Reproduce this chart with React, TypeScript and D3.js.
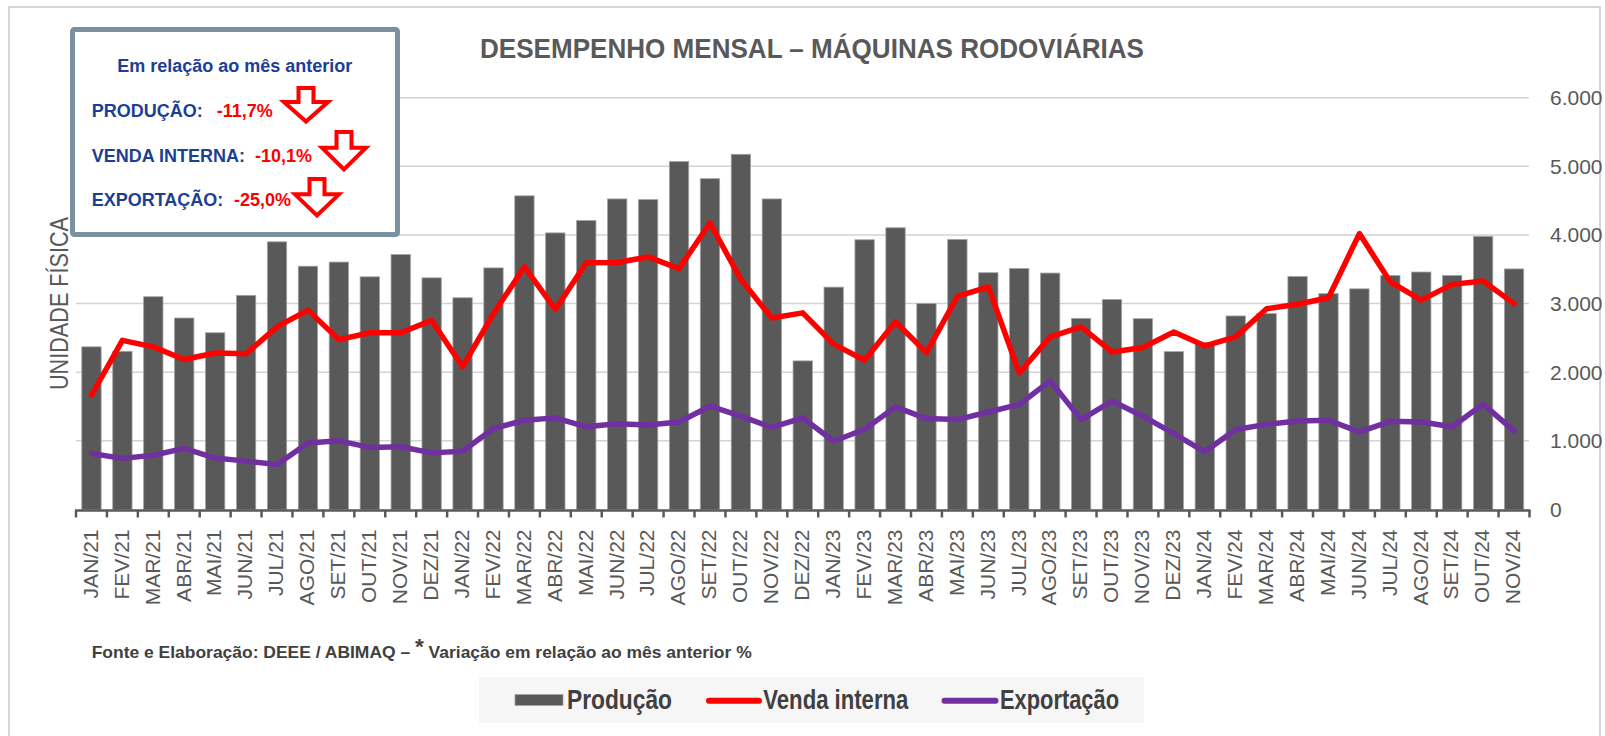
import React, { useEffect, useRef } from 'react';
import * as d3 from 'd3';

// monthly data
const months = [
    'JAN/21', 'FEV/21', 'MAR/21', 'ABR/21', 'MAI/21', 'JUN/21', 'JUL/21', 'AGO/21', 'SET/21', 'OUT/21', 'NOV/21', 'DEZ/21',
    'JAN/22', 'FEV/22', 'MAR/22', 'ABR/22', 'MAI/22', 'JUN/22', 'JUL/22', 'AGO/22', 'SET/22', 'OUT/22', 'NOV/22', 'DEZ/22',
    'JAN/23', 'FEV/23', 'MAR/23', 'ABR/23', 'MAI/23', 'JUN/23', 'JUL/23', 'AGO/23', 'SET/23', 'OUT/23', 'NOV/23', 'DEZ/23',
    'JAN/24', 'FEV/24', 'MAR/24', 'ABR/24', 'MAI/24', 'JUN/24', 'JUL/24', 'AGO/24', 'SET/24', 'OUT/24', 'NOV/24',
];

const producao = [
    2370, 2305, 3100, 2790, 2575, 3120, 3900, 3545, 3605, 3390, 3715, 3375,
    3085, 3520, 4570, 4030, 4210, 4525, 4515, 5070, 4820, 5175, 4525, 2165,
    3240, 3930, 4105, 3000, 3935, 3450, 3510, 3445, 2785, 3060, 2780, 2300,
    2435, 2820, 2855, 3395, 3145, 3215, 3410, 3460, 3410, 3980, 3505,
];

const vendaInterna = [
    1665, 2465, 2370, 2185, 2280, 2270, 2660, 2905, 2475, 2575, 2575, 2755,
    2080, 2855, 3535, 2915, 3595, 3600, 3680, 3510, 4175, 3350, 2790, 2865,
    2410, 2175, 2735, 2285, 3105, 3245, 1990, 2515, 2660, 2295, 2360, 2585,
    2385, 2515, 2925, 2990, 3085, 4020, 3315, 3050, 3280, 3330, 3000,
];

const exportacao = [
    815, 745, 790, 890, 750, 705, 655, 970, 1000, 905, 915, 825,
    850, 1180, 1300, 1335, 1205, 1250, 1230, 1275, 1505, 1360, 1195, 1335,
    995, 1170, 1495, 1325, 1310, 1420, 1530, 1875, 1310, 1580, 1360, 1105,
    840, 1165, 1240, 1290, 1300, 1130, 1285, 1275, 1205, 1535, 1145,
];

const yTicks = [0, 1000, 2000, 3000, 4000, 5000, 6000];

const infoLabels = ['PRODUÇÃO:', 'VENDA INTERNA:', 'EXPORTAÇÃO:'];
const infoValues = ['-11,7%', '-10,1%', '-25,0%'];

const legendLabels = ['Produção', 'Venda interna', 'Exportação'];

const GRAY = '#595959';
const RED = '#ff0000';
const PURPLE = '#7030a0';
const BLUE = '#1c3f94';
const SANS = "'Liberation Sans', Arial, sans-serif";
const NARROW = "'Liberation Sans Narrow', 'Liberation Sans', Arial, sans-serif";

const App = () => {
    const svgRef = useRef<SVGSVGElement>(null);

    useEffect(() => {
        if (!svgRef.current) return;
        const width = 1605;
        const height = 736;

        const svg = d3.select(svgRef.current);
        svg.selectAll('*').remove();
        svg.attr('width', width).attr('height', height).attr('viewBox', [0, 0, width, height]);

        svg.append('rect').attr('width', width).attr('height', height).attr('fill', '#fff');

        // outer frame
        svg.append('rect')
            .attr('x', 9).attr('y', 7)
            .attr('width', 1591).attr('height', 740)
            .attr('fill', 'none')
            .attr('stroke', '#c8c8c8')
            .attr('stroke-width', 1.5);

        const xScale = d3.scaleBand<string>()
            .domain(months)
            .range([76, 1529.5])
            .paddingInner(0.375)
            .paddingOuter(0.1875);

        const yScale = d3.scaleLinear()
            .domain([0, 6000])
            .range([509.5, 97.7]);

        const cx = (m: string) => (xScale(m) || 0) + xScale.bandwidth() / 2;

        // gridlines
        svg.append('g')
            .selectAll('line')
            .data(yTicks.filter(t => t > 0))
            .join('line')
            .attr('x1', 76)
            .attr('x2', 1529)
            .attr('y1', d => yScale(d))
            .attr('y2', d => yScale(d))
            .attr('stroke', '#d3d3d3')
            .attr('stroke-width', 1.5);

        // y tick labels (right side)
        svg.append('g')
            .selectAll('text')
            .data(yTicks)
            .join('text')
            .attr('x', 1550)
            .attr('y', d => yScale(d))
            .attr('dy', '0.35em')
            .attr('font-family', SANS)
            .attr('font-size', 21)
            .attr('fill', GRAY)
            .text(d => d3.format(',')(d).replace(/,/g, '.'));

        // bars
        svg.append('g')
            .selectAll('rect')
            .data(months)
            .join('rect')
            .attr('x', d => xScale(d) || 0)
            .attr('width', xScale.bandwidth())
            .attr('y', (d, i) => yScale(producao[i]))
            .attr('height', (d, i) => yScale(0) - yScale(producao[i]))
            .attr('fill', GRAY)
            .attr('stroke', '#a3a3a3')
            .attr('stroke-width', 0.8);

        // x axis
        const axisY = 510.5;
        svg.append('line')
            .attr('x1', 75).attr('x2', 1530.5)
            .attr('y1', axisY).attr('y2', axisY)
            .attr('stroke', GRAY)
            .attr('stroke-width', 2.5);

        const tickXs = months.map(m => (xScale(m) || 0) - xScale.step() * 0.1875).concat([1529.5]);
        svg.append('g')
            .selectAll('line')
            .data(tickXs)
            .join('line')
            .attr('x1', d => d).attr('x2', d => d)
            .attr('y1', axisY).attr('y2', 517.5)
            .attr('stroke', GRAY)
            .attr('stroke-width', 2.5);

        svg.append('g')
            .selectAll('text')
            .data(months)
            .join('text')
            .attr('transform', d => `translate(${cx(d)},529.5) rotate(-90)`)
            .attr('dy', '0.3em')
            .attr('text-anchor', 'end')
            .attr('font-family', SANS)
            .attr('font-size', 21)
            .attr('fill', GRAY)
            .text(d => d);

        // lines
        const line = d3.line<number>()
            .x((d, i) => cx(months[i]))
            .y(d => yScale(d));

        svg.append('path')
            .attr('d', line(vendaInterna))
            .attr('fill', 'none')
            .attr('stroke', RED)
            .attr('stroke-width', 5.5)
            .attr('stroke-linejoin', 'round')
            .attr('stroke-linecap', 'round');

        svg.append('path')
            .attr('d', line(exportacao))
            .attr('fill', 'none')
            .attr('stroke', PURPLE)
            .attr('stroke-width', 5.5)
            .attr('stroke-linejoin', 'round')
            .attr('stroke-linecap', 'round');

        // title
        svg.append('text')
            .attr('x', 480).attr('y', 58)
            .attr('textLength', 664)
            .attr('lengthAdjust', 'spacingAndGlyphs')
            .attr('font-family', NARROW)
            .attr('font-weight', 'bold')
            .attr('font-size', 28)
            .attr('fill', GRAY)
            .text('DESEMPENHO MENSAL – MÁQUINAS RODOVIÁRIAS');

        // y axis title
        svg.append('text')
            .attr('transform', 'translate(68,303.5) rotate(-90)')
            .attr('text-anchor', 'middle')
            .attr('textLength', 173)
            .attr('lengthAdjust', 'spacingAndGlyphs')
            .attr('font-family', NARROW)
            .attr('font-size', 25)
            .attr('fill', GRAY)
            .text('UNIDADE FÍSICA');

        // info box
        svg.append('rect')
            .attr('x', 72.5).attr('y', 29.5)
            .attr('width', 325).attr('height', 205)
            .attr('rx', 2)
            .attr('fill', '#fff')
            .attr('stroke', '#7b929e')
            .attr('stroke-width', 5);

        svg.append('text')
            .attr('x', 234.7).attr('y', 71.7)
            .attr('text-anchor', 'middle')
            .attr('font-family', SANS)
            .attr('font-weight', 'bold')
            .attr('font-size', 18)
            .attr('fill', BLUE)
            .text('Em relação ao mês anterior');

        const rowY = [117, 162.3, 205.7];
        const valueX = [216.7, 255, 234];
        const arrows = [[306, 88, 121.5], [344, 132, 169.5], [317, 179, 215.5]];

        const arrowPath = (x: number, top: number, bottom: number) => {
            const hw = 22;
            const sw = 7.5;
            const hy = top + (bottom - top) * 0.42;
            return `M${x - sw},${top}H${x + sw}V${hy}H${x + hw}L${x},${bottom}L${x - hw},${hy}H${x - sw}Z`;
        };

        infoLabels.forEach((label, i) => {
            svg.append('text')
                .attr('x', 91.7).attr('y', rowY[i])
                .attr('font-family', SANS)
                .attr('font-weight', 'bold')
                .attr('font-size', 18)
                .attr('fill', BLUE)
                .text(label);

            svg.append('path')
                .attr('d', arrowPath(arrows[i][0], arrows[i][1], arrows[i][2]))
                .attr('fill', '#fff')
                .attr('stroke', RED)
                .attr('stroke-width', 4);

            svg.append('text')
                .attr('x', valueX[i]).attr('y', rowY[i])
                .attr('font-family', SANS)
                .attr('font-weight', 'bold')
                .attr('font-size', 18)
                .attr('fill', RED)
                .text(infoValues[i]);
        });

        // footer
        const footer = svg.append('text')
            .attr('x', 91.7).attr('y', 658.3)
            .attr('textLength', 660)
            .attr('lengthAdjust', 'spacingAndGlyphs')
            .attr('font-family', NARROW)
            .attr('font-weight', 'bold')
            .attr('font-size', 17)
            .attr('fill', '#404040');
        footer.append('tspan').text('Fonte e Elaboração: DEEE / ABIMAQ – ');
        footer.append('tspan').attr('font-size', 22).attr('dy', -4).text('*');
        footer.append('tspan').attr('dy', 4).text(' Variação em relação ao mês anterior %');

        // legend
        svg.append('rect')
            .attr('x', 479).attr('y', 677)
            .attr('width', 665).attr('height', 46)
            .attr('fill', '#f6f6f6');

        svg.append('rect')
            .attr('x', 515).attr('y', 694.5)
            .attr('width', 48).attr('height', 11)
            .attr('fill', GRAY)
            .attr('stroke', '#a3a3a3')
            .attr('stroke-width', 0.8);

        const legendLines = [[709, 759, RED], [944.5, 995.5, PURPLE]];
        legendLines.forEach(([x1, x2, color]) => {
            svg.append('line')
                .attr('x1', x1).attr('x2', x2)
                .attr('y1', 700.7).attr('y2', 700.7)
                .attr('stroke', color as string)
                .attr('stroke-width', 6)
                .attr('stroke-linecap', 'round');
        });

        const legendX = [567, 763.3, 1000];
        const legendW = [105, 145, 119];
        legendLabels.forEach((label, i) => {
            svg.append('text')
                .attr('x', legendX[i]).attr('y', 709)
                .attr('textLength', legendW[i])
                .attr('lengthAdjust', 'spacingAndGlyphs')
                .attr('font-family', NARROW)
                .attr('font-weight', 'bold')
                .attr('font-size', 28)
                .attr('fill', '#404040')
                .text(label);
        });
    }, []);

    return (
        <div style={{ position: 'absolute', left: 0, top: 0, width: 1605, height: 736 }}>
            <svg ref={svgRef} style={{ display: 'block' }} />
        </div>
    );
};

export default App;
